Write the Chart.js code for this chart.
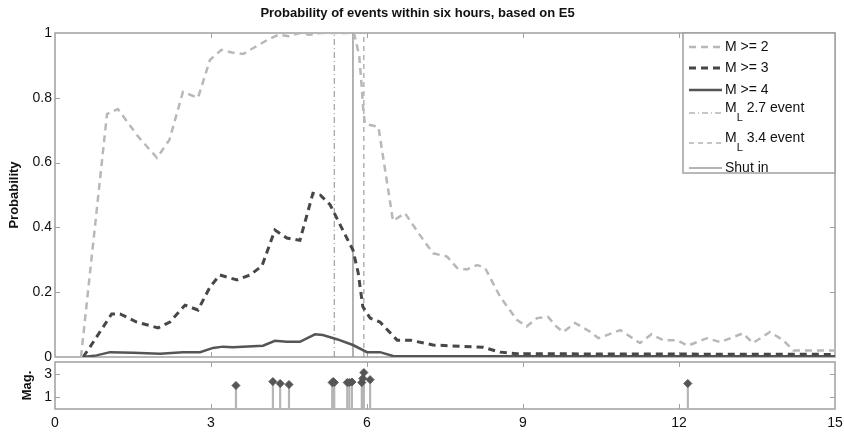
<!DOCTYPE html>
<html>
<head>
<meta charset="utf-8">
<script src="https://cdn.jsdelivr.net/npm/chart.js@4.4.1/dist/chart.umd.min.js"></script>
<style>
  body { margin: 0; background: #fff; }
  #wrap { position: relative; width: 844px; height: 436px; }
  #probChart { position: absolute; left: 0; top: 0; }
  #magChart { position: absolute; left: 0; top: 353px; }
</style>
</head>
<body>
<div id="wrap">
  <canvas id="probChart" width="844" height="366"></canvas>
  <canvas id="magChart" width="844" height="83"></canvas>
</div>
<script>
// Werte (Stunden / Wahrscheinlichkeit)
const m2Hours = [0.5, 1.0, 1.21, 1.6, 1.96, 2.2, 2.46, 2.75, 2.98, 3.2, 3.4, 3.62, 3.88, 4.1, 4.3, 4.5, 4.7, 4.9, 5.1, 5.3, 5.5, 5.75, 5.85, 5.9, 5.93, 5.96, 6.22, 6.5, 6.73, 7.0, 7.27, 7.54, 7.73, 7.92, 8.12, 8.27, 8.56, 8.88, 9.07, 9.27, 9.48, 9.65, 9.77, 10.0, 10.29, 10.45, 10.87, 11.25, 11.47, 11.7, 11.96, 12.17, 12.54, 12.79, 13.23, 13.42, 13.75, 14.0, 14.2, 15.0];
const m2Prob = [0, 0.75, 0.765, 0.68, 0.615, 0.67, 0.818, 0.8, 0.917, 0.948, 0.94, 0.935, 0.96, 0.98, 0.995, 0.99, 1.0, 0.995, 1.0, 1.0, 1.0, 1.0, 0.93, 0.83, 0.76, 0.72, 0.71, 0.42, 0.444, 0.38, 0.32, 0.31, 0.275, 0.27, 0.284, 0.275, 0.186, 0.115, 0.094, 0.12, 0.124, 0.093, 0.077, 0.105, 0.078, 0.058, 0.083, 0.043, 0.07, 0.052, 0.052, 0.035, 0.058, 0.046, 0.073, 0.043, 0.077, 0.052, 0.02, 0.02];

const m3Hours = [0.54, 0.67, 1.09, 1.25, 1.57, 1.98, 2.21, 2.5, 2.75, 2.98, 3.17, 3.5, 3.75, 3.98, 4.23, 4.46, 4.71, 4.96, 5.1, 5.29, 5.54, 5.73, 5.83, 5.92, 6.06, 6.25, 6.58, 6.83, 7.27, 8.23, 8.56, 8.88, 15.0];
const m3Prob = [0, 0.03, 0.133, 0.133, 0.108, 0.09, 0.108, 0.16, 0.145, 0.216, 0.253, 0.238, 0.253, 0.281, 0.392, 0.367, 0.36, 0.505, 0.5, 0.47, 0.39, 0.33, 0.26, 0.155, 0.12, 0.108, 0.052, 0.052, 0.037, 0.03, 0.015, 0.01, 0.008];

const m4Hours = [0.54, 0.8, 1.06, 1.5, 2.02, 2.46, 2.79, 3.04, 3.23, 3.42, 4.0, 4.23, 4.46, 4.71, 5.0, 5.15, 5.42, 5.73, 6.0, 6.25, 6.5, 15.0];
const m4Prob = [0, 0.005, 0.015, 0.013, 0.01, 0.015, 0.015, 0.028, 0.032, 0.03, 0.035, 0.05, 0.047, 0.047, 0.07, 0.068, 0.055, 0.037, 0.015, 0.015, 0.003, 0.002];

// markierte Ereignisse und Abschaltung
const eventHours = [5.37, 5.94];
const eventLabels = ['M_L 2.7 event', 'M_L 3.4 event'];
const shutInHour = 5.73;

// Beben im unteren Panel
const quakeHours = [3.48, 4.19, 4.33, 4.5, 5.33, 5.35, 5.37, 5.62, 5.66, 5.71, 5.9, 5.92, 5.94, 6.06, 12.17];
const quakeMags = [2.0, 2.33, 2.17, 2.08, 2.25, 2.33, 2.25, 2.25, 2.25, 2.3, 2.25, 2.6, 3.1, 2.5, 2.17];

// Achsenbeschriftungen
const hourTicks = [0, 3, 6, 9, 12, 15];
const probTicks = [0, 0.2, 0.4, 0.6, 0.8, 1];
const magTicks = [1, 3];

Chart.defaults.font.family = '"Liberation Sans", Arial, sans-serif';
Chart.defaults.color = '#111';

const toPoints = (xs, ys) => xs.map((x, i) => ({ x: x, y: ys[i] }));
const vline = h => [{ x: h, y: 0 }, { x: h, y: 1 }];

// Rahmen mit nach innen zeigenden Ticks (MATLAB-Stil)
const frameTicks = {
  id: 'frameTicks',
  beforeDatasetsDraw(chart) {
    const { ctx, chartArea: a, scales } = chart;
    ctx.save();
    ctx.strokeStyle = '#a0a0a0';
    ctx.lineWidth = 1.5;
    ctx.strokeRect(a.left, a.top, a.right - a.left, a.bottom - a.top);
    ctx.lineWidth = 1;
    ctx.beginPath();
    scales.x.ticks.forEach(t => {
      const px = Math.round(scales.x.getPixelForValue(t.value)) + 0.5;
      if (px <= a.left + 1 || px >= a.right - 1) return;
      ctx.moveTo(px, a.bottom); ctx.lineTo(px, a.bottom - 5);
      ctx.moveTo(px, a.top); ctx.lineTo(px, a.top + 5);
    });
    scales.y.ticks.forEach(t => {
      const py = Math.round(scales.y.getPixelForValue(t.value)) + 0.5;
      if (py <= a.top + 1 || py >= a.bottom - 1) return;
      ctx.moveTo(a.left, py); ctx.lineTo(a.left + 5, py);
      ctx.moveTo(a.right, py); ctx.lineTo(a.right - 5, py);
    });
    ctx.stroke();
    ctx.restore();
  }
};

// Legende oben rechts, mit tiefgestelltem L
const legendBox = {
  id: 'legendBox',
  afterDraw(chart) {
    const { ctx, chartArea: a } = chart;
    const w = 152, h = 140;
    const left = a.right - w, top = a.top;
    const rows = [14, 35, 57, 80, 110, 135];
    ctx.save();
    ctx.fillStyle = '#fff';
    ctx.fillRect(left, top, w, h);
    ctx.strokeStyle = '#a0a0a0';
    ctx.lineWidth = 1.5;
    ctx.strokeRect(left, top, w, h);
    chart.data.datasets.forEach((ds, i) => {
      const y = top + rows[i];
      ctx.strokeStyle = ds.borderColor;
      ctx.lineWidth = ds.borderWidth;
      ctx.setLineDash(ds.borderDash || []);
      ctx.beginPath();
      ctx.moveTo(left + 6, y);
      ctx.lineTo(left + 39, y);
      ctx.stroke();
      ctx.setLineDash([]);
      ctx.fillStyle = '#111';
      ctx.textBaseline = 'middle';
      ctx.font = '14px "Liberation Sans", Arial, sans-serif';
      const tx = left + 42;
      const parts = ds.label.split('_L');
      if (parts.length === 2) {
        ctx.fillText(parts[0], tx, y - 5);
        const w0 = ctx.measureText(parts[0]).width;
        ctx.font = '11px "Liberation Sans", Arial, sans-serif';
        ctx.fillText('L', tx + w0, y + 5);
        const wl = ctx.measureText('L').width;
        ctx.font = '14px "Liberation Sans", Arial, sans-serif';
        ctx.fillText(parts[1], tx + w0 + wl, y - 5);
      } else {
        ctx.fillText(ds.label, tx, y);
      }
    });
    ctx.restore();
  }
};

// Achsen: Breiten/Höhen fest, damit beide Panels genau übereinander liegen
const hourScale = (showLabels, height) => ({
  type: 'linear',
  min: 0,
  max: 15,
  offset: false,
  afterBuildTicks: s => { s.ticks = hourTicks.map(v => ({ value: v })); },
  afterFit: s => { s.height = height; s.paddingLeft = 0; s.paddingRight = 0; },
  grid: { display: false, drawTicks: false, offset: false },
  border: { display: false },
  ticks: { display: showLabels, padding: 6, font: { size: 14 }, maxRotation: 0, callback: v => String(v) }
});

const valueScale = (min, max, tickValues, title, titlePad) => ({
  min: min,
  max: max,
  afterBuildTicks: s => { s.ticks = tickValues.map(v => ({ value: v })); },
  afterFit: s => { s.width = 55; s.paddingTop = 0; s.paddingBottom = 0; },
  grid: { display: false, drawTicks: false },
  border: { display: false },
  ticks: { padding: 3, font: { size: 14 }, callback: v => String(v) },
  title: { display: true, text: title, font: { size: 13, weight: 'bold' }, padding: { top: titlePad, bottom: 0 } }
});

const probChart = new Chart(document.getElementById('probChart'), {
  type: 'line',
  data: {
    datasets: [
      { label: 'M >= 2', data: toPoints(m2Hours, m2Prob), borderColor: '#b8b8b8', borderWidth: 2.5, borderDash: [7, 5] },
      { label: 'M >= 3', data: toPoints(m3Hours, m3Prob), borderColor: '#474747', borderWidth: 3, borderDash: [7, 5] },
      { label: 'M >= 4', data: toPoints(m4Hours, m4Prob), borderColor: '#555555', borderWidth: 2.5 },
      { label: eventLabels[0], data: vline(eventHours[0]), borderColor: '#8c8c8c', borderWidth: 1, borderDash: [6, 3, 1, 3] },
      { label: eventLabels[1], data: vline(eventHours[1]), borderColor: '#8c8c8c', borderWidth: 1, borderDash: [5, 4] },
      { label: 'Shut in', data: vline(shutInHour), borderColor: '#9a9a9a', borderWidth: 1.5 }
    ]
  },
  options: {
    responsive: false,
    animation: false,
    layout: { padding: { top: 0, left: 0, right: 9, bottom: 9 } },
    elements: { point: { radius: 0 }, line: { tension: 0 } },
    plugins: {
      legend: { display: false },
      tooltip: { enabled: false },
      title: {
        display: true,
        text: 'Probability of events within six hours, based on E5',
        font: { size: 13, weight: 'bold' },
        color: '#111',
        padding: { top: 6, bottom: 11.4 }
      }
    },
    scales: {
      x: hourScale(false, 0),
      y: valueScale(0, 1, probTicks, 'Probability', 7)
    }
  },
  plugins: [frameTicks, legendBox]
});

const magChart = new Chart(document.getElementById('magChart'), {
  type: 'scatter',
  data: {
    datasets: [
      { type: 'scatter', data: toPoints(quakeHours, quakeMags), order: 0, pointStyle: 'rectRot', pointRadius: 4, backgroundColor: '#555', borderColor: '#555' },
      { type: 'bar', data: toPoints(quakeHours, quakeMags), order: 1, barThickness: 1.5, backgroundColor: '#b5b5b5', borderWidth: 0 }
    ]
  },
  options: {
    responsive: false,
    animation: false,
    layout: { padding: { top: 9, left: 0, right: 9, bottom: 0 } },
    plugins: { legend: { display: false }, tooltip: { enabled: false } },
    scales: {
      x: hourScale(true, 27),
      y: valueScale(0, 4, magTicks, 'Mag.', 20)
    }
  },
  plugins: [frameTicks]
});
</script>
</body>
</html>
